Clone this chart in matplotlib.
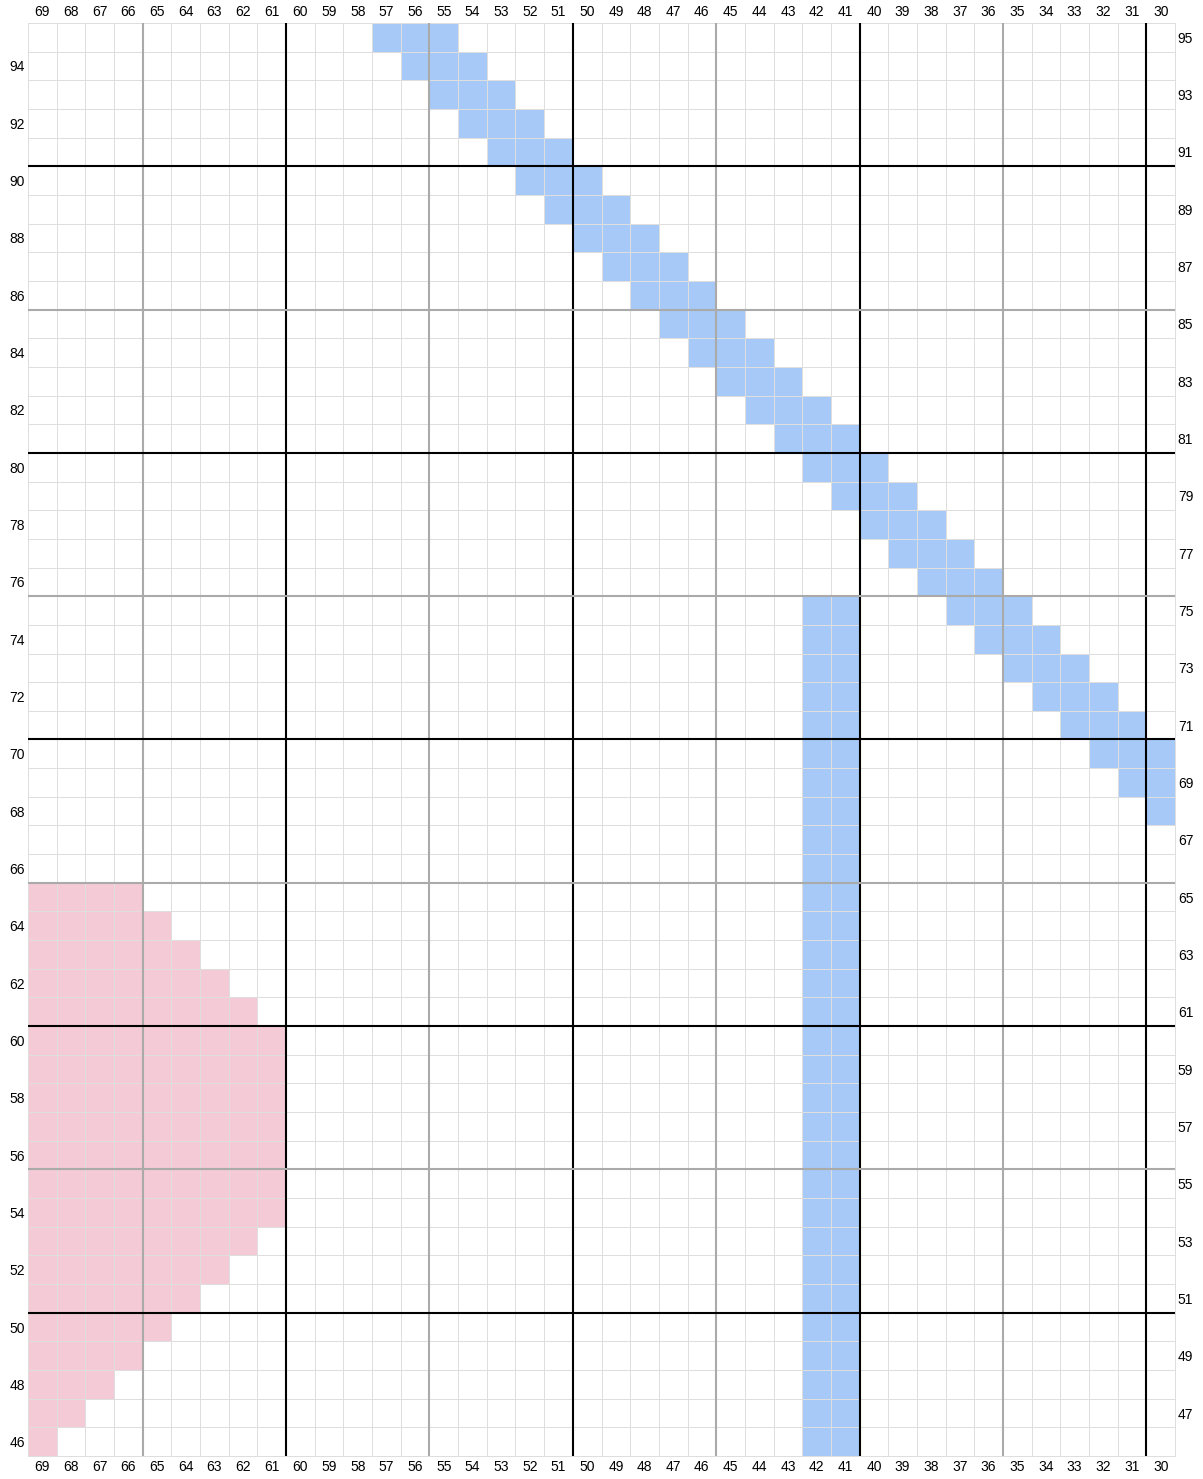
import matplotlib
matplotlib.use("Agg")
import matplotlib.pyplot as plt
import numpy as np
from matplotlib.colors import ListedColormap

plt.rcParams["font.family"] = ["Liberation Sans", "DejaVu Sans"]

# column / row numbering of the chart
cols = list(range(69, 29, -1))   # left -> right
rows = list(range(95, 45, -1))   # top -> bottom

# blue diagonal: row, leftmost col, rightmost col
diag_rows = [95, 94, 93, 92, 91, 90, 89, 88, 87, 86, 85, 84, 83, 82,
             81, 80, 79, 78, 77, 76, 75, 74, 73, 72, 71, 70, 69, 68]
diag_left = [57, 56, 55, 54, 53, 52, 51, 50, 49, 48, 47, 46, 45, 44,
             43, 42, 41, 40, 39, 38, 37, 36, 35, 34, 33, 32, 31, 30]
diag_right = [55, 54, 53, 52, 51, 50, 49, 48, 47, 46, 45, 44, 43, 42,
              41, 40, 39, 38, 37, 36, 35, 34, 33, 32, 31, 30, 30, 30]

# blue vertical band
band_rows = list(range(75, 45, -1))
band_cols = [42, 41]

# pink block: row, innermost col filled (from col 69)
pink_rows = [65, 64, 63, 62, 61, 60, 59, 58, 57, 56, 55, 54,
             53, 52, 51, 50, 49, 48, 47, 46]
pink_inner = [66, 65, 64, 63, 62, 61, 61, 61, 61, 61, 61, 61,
              62, 63, 64, 65, 66, 67, 68, 69]

BLUE = "#a7c9f7"
PINK = "#f3cad5"
GRID = "#dedede"

# build cell matrix (0 empty, 1 blue, 2 pink)
cells = np.zeros((len(rows), len(cols)))
for r, lo, hi in zip(diag_rows, diag_left, diag_right):
    for c in range(hi, lo + 1):
        cells[rows.index(r), cols.index(c)] = 1
for r in band_rows:
    for c in band_cols:
        cells[rows.index(r), cols.index(c)] = 1
for r, inner in zip(pink_rows, pink_inner):
    for c in range(inner, 70):
        cells[rows.index(r), cols.index(c)] = 2

fig = plt.figure(figsize=(12.03, 14.79), dpi=100)
ax = fig.add_axes([28 / 1203, 23 / 1479, 1147 / 1203, 1433 / 1479])

xedges = np.array([c + 0.5 for c in cols] + [cols[-1] - 0.5])
yedges = np.array([r + 0.5 for r in rows] + [rows[-1] - 0.5])
ax.pcolormesh(xedges, yedges, cells,
              cmap=ListedColormap(["white", BLUE, PINK]), vmin=0, vmax=2,
              edgecolors=GRID, linewidth=0.72, antialiased=False,
              clip_on=False)

ax.set_xlim(69.5, 29.5)
ax.set_ylim(45.5, 95.5)

# heavier lines every 5 / 10
for c in cols:
    e = c + 0.5
    if c % 5 == 0 and 29.5 < e < 69.5:
        ax.axvline(e, color="black" if c % 10 == 0 else "#aaaaaa",
                   lw=1.5, zorder=3)
for r in rows:
    e = r + 0.5
    if r % 5 == 0 and 45.5 < e < 95.5:
        ax.axhline(e, color="black" if r % 10 == 0 else "#aaaaaa",
                   lw=1.5, zorder=3)

for s in ax.spines.values():
    s.set_color(GRID)
    s.set_linewidth(0.72)

ax.set_xticks(cols)
ax.set_xticklabels([str(c) for c in cols])
even_rows = [r for r in rows if r % 2 == 0]
odd_rows = [r for r in rows if r % 2 == 1]
ax.set_yticks(even_rows)
ax.set_yticklabels([str(r) for r in even_rows])
ax.tick_params(axis="x", which="both", length=0, top=False, bottom=False,
               labeltop=True, labelbottom=True, labelsize=10, pad=3)
ax.tick_params(axis="y", length=0, labelsize=10, pad=2)

ax2 = ax.twinx()
ax2.set_ylim(45.5, 95.5)
ax2.set_yticks(odd_rows)
ax2.set_yticklabels([str(r) for r in odd_rows])
ax2.tick_params(axis="y", length=0, labelsize=10, pad=2)
for s in ax2.spines.values():
    s.set_visible(False)

fig.savefig("out.png", dpi=100)
